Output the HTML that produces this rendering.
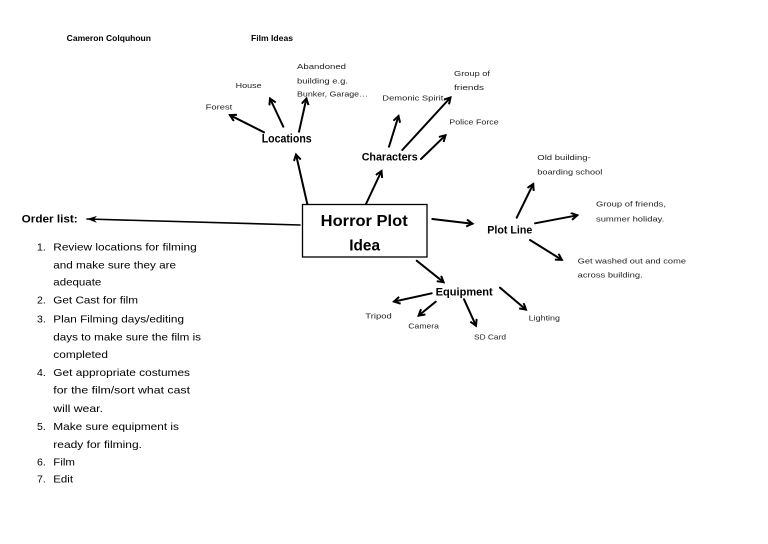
<!DOCTYPE html>
<html><head><meta charset="utf-8"><style>
html,body{margin:0;padding:0;background:#fff;}
svg{display:block;}
text{font-family:"Liberation Sans",sans-serif;}
.b{font-weight:bold;fill:#000;}
.s{font-size:7.5px;fill:#222;}
.l{font-size:10.5px;fill:#000;}
</style></head><body>
<svg width="768" height="544" viewBox="0 0 768 544" xmlns="http://www.w3.org/2000/svg">
<defs>
<marker id="a" markerWidth="10" markerHeight="10" refX="7" refY="4" orient="auto" markerUnits="userSpaceOnUse">
<polyline points="1,0.5 7,4 1,7.5" fill="none" stroke="#000" stroke-width="2" stroke-linejoin="miter"/>
</marker>
<marker id="o" markerWidth="12" markerHeight="10" refX="10" refY="4" orient="auto" markerUnits="userSpaceOnUse">
<path d="M10,4 L0,0.5 L3,4 L0,7.5 Z" fill="#000"/>
</marker>
</defs>
<g stroke="#000" stroke-width="2" fill="none" stroke-linecap="round">
<line x1="264" y1="132.3" x2="230" y2="115.2" marker-end="url(#a)"/>
<line x1="283.3" y1="126.7" x2="270" y2="98.5" marker-end="url(#a)"/>
<line x1="299" y1="131.7" x2="306.4" y2="98.5" marker-end="url(#a)"/>
<line x1="307.3" y1="204" x2="296" y2="154.5" marker-end="url(#a)"/>
<line x1="366" y1="204" x2="381.5" y2="171" marker-end="url(#a)"/>
<line x1="389" y1="146.7" x2="398.5" y2="116" marker-end="url(#a)"/>
<line x1="402.3" y1="150" x2="450.5" y2="97.5" marker-end="url(#a)"/>
<line x1="421" y1="159" x2="445.5" y2="135.3" marker-end="url(#a)"/>
<line x1="432.3" y1="219" x2="472.5" y2="223.7" marker-end="url(#a)"/>
<line x1="516.7" y1="217.7" x2="533.2" y2="184" marker-end="url(#a)"/>
<line x1="535" y1="223.3" x2="577.3" y2="215.3" marker-end="url(#a)"/>
<line x1="530" y1="240" x2="561.8" y2="259.8" marker-end="url(#a)"/>
<line x1="416.7" y1="260.7" x2="443.6" y2="282.2" marker-end="url(#a)"/>
<line x1="431.7" y1="293.3" x2="394" y2="301.6" marker-end="url(#a)"/>
<line x1="435.7" y1="301.7" x2="418.6" y2="315.6" marker-end="url(#a)"/>
<line x1="464" y1="299.3" x2="476" y2="325.7" marker-end="url(#a)"/>
<line x1="500" y1="287.7" x2="526" y2="309.6" marker-end="url(#a)"/>
<line x1="300" y1="225" x2="87" y2="219" stroke-width="1.6" marker-end="url(#o)"/>
</g>
<rect x="302.5" y="204.5" width="124.5" height="52.5" fill="#fff" stroke="#000" stroke-width="1.3"/>

<text class="b" x="66.7" y="41" font-size="8.5" textLength="84.3" lengthAdjust="spacingAndGlyphs">Cameron Colquhoun</text>
<text class="b" x="251" y="41" font-size="8.5" textLength="42" lengthAdjust="spacingAndGlyphs">Film Ideas</text>

<text class="s" x="297" y="69" textLength="49" lengthAdjust="spacingAndGlyphs">Abandoned</text>
<text class="s" x="297" y="83.3" textLength="51" lengthAdjust="spacingAndGlyphs">building e.g.</text>
<text class="s" x="297" y="96.7" textLength="71" lengthAdjust="spacingAndGlyphs">Bunker, Garage…</text>
<text class="s" x="235.7" y="88" textLength="26" lengthAdjust="spacingAndGlyphs">House</text>
<text class="s" x="205.7" y="109.5" textLength="26.6" lengthAdjust="spacingAndGlyphs">Forest</text>
<text class="b" x="261.7" y="142.7" font-size="11.5" textLength="50" lengthAdjust="spacingAndGlyphs">Locations</text>

<text class="s" x="454" y="76" textLength="36" lengthAdjust="spacingAndGlyphs">Group of</text>
<text class="s" x="454" y="90" textLength="30" lengthAdjust="spacingAndGlyphs">friends</text>
<text class="s" x="382.3" y="100.7" textLength="61" lengthAdjust="spacingAndGlyphs">Demonic Spirit</text>
<text class="s" x="449.3" y="124.7" textLength="49.4" lengthAdjust="spacingAndGlyphs">Police Force</text>
<text class="b" x="361.7" y="160.7" font-size="11" textLength="56" lengthAdjust="spacingAndGlyphs">Characters</text>

<text class="s" x="537.3" y="160" textLength="53.4" lengthAdjust="spacingAndGlyphs">Old building-</text>
<text class="s" x="537.3" y="174.7" textLength="65" lengthAdjust="spacingAndGlyphs">boarding school</text>
<text class="s" x="596" y="206.7" textLength="70" lengthAdjust="spacingAndGlyphs">Group of friends,</text>
<text class="s" x="596" y="221.7" textLength="68.3" lengthAdjust="spacingAndGlyphs">summer holiday.</text>
<text class="s" x="577.7" y="263.5" textLength="108.3" lengthAdjust="spacingAndGlyphs">Get washed out and come</text>
<text class="s" x="577.7" y="277.5" textLength="65" lengthAdjust="spacingAndGlyphs">across building.</text>
<text class="b" x="487.3" y="233.3" font-size="11" textLength="45" lengthAdjust="spacingAndGlyphs">Plot Line</text>

<text class="b" x="320.7" y="226" font-size="15.5" textLength="87" lengthAdjust="spacingAndGlyphs">Horror Plot</text>
<text class="b" x="349.3" y="250.7" font-size="15.5" textLength="30.7" lengthAdjust="spacingAndGlyphs">Idea</text>

<text class="b" x="435.7" y="295.7" font-size="11" textLength="57" lengthAdjust="spacingAndGlyphs">Equipment</text>
<text class="s" x="365.3" y="318.3" textLength="26.4" lengthAdjust="spacingAndGlyphs">Tripod</text>
<text class="s" x="408.3" y="328.3" textLength="30.7" lengthAdjust="spacingAndGlyphs">Camera</text>
<text class="s" x="474" y="339.3" textLength="32" lengthAdjust="spacingAndGlyphs">SD Card</text>
<text class="s" x="528.7" y="320.5" textLength="31.3" lengthAdjust="spacingAndGlyphs">Lighting</text>

<text class="b" x="21.7" y="222.7" font-size="11" textLength="56" lengthAdjust="spacingAndGlyphs">Order list:</text>

<g class="l">
<text x="37" y="250.7">1.</text>
<text x="53.3" y="250.7" textLength="143.4" lengthAdjust="spacingAndGlyphs">Review locations for filming</text>
<text x="53.3" y="268.3" textLength="122.7" lengthAdjust="spacingAndGlyphs">and make sure they are</text>
<text x="53.3" y="285.7" textLength="48" lengthAdjust="spacingAndGlyphs">adequate</text>
<text x="37" y="303.3">2.</text>
<text x="53.3" y="303.3" textLength="84.7" lengthAdjust="spacingAndGlyphs">Get Cast for film</text>
<text x="37" y="322.7">3.</text>
<text x="53.3" y="322.7" textLength="130.7" lengthAdjust="spacingAndGlyphs">Plan Filming days/editing</text>
<text x="53.3" y="340.3" textLength="147.7" lengthAdjust="spacingAndGlyphs">days to make sure the film is</text>
<text x="53.3" y="358" textLength="54.7" lengthAdjust="spacingAndGlyphs">completed</text>
<text x="37" y="376">4.</text>
<text x="53.3" y="376" textLength="136.7" lengthAdjust="spacingAndGlyphs">Get appropriate costumes</text>
<text x="53.3" y="393.7" textLength="136.7" lengthAdjust="spacingAndGlyphs">for the film/sort what cast</text>
<text x="53.3" y="412" textLength="49.7" lengthAdjust="spacingAndGlyphs">will wear.</text>
<text x="37" y="430">5.</text>
<text x="53.3" y="430" textLength="125.7" lengthAdjust="spacingAndGlyphs">Make sure equipment is</text>
<text x="53.3" y="448" textLength="88.7" lengthAdjust="spacingAndGlyphs">ready for filming.</text>
<text x="37" y="465.3">6.</text>
<text x="53.3" y="465.3" textLength="21.7" lengthAdjust="spacingAndGlyphs">Film</text>
<text x="37" y="482.3">7.</text>
<text x="53.3" y="482.3" textLength="19.7" lengthAdjust="spacingAndGlyphs">Edit</text>
</g>
</svg>
</body></html>
